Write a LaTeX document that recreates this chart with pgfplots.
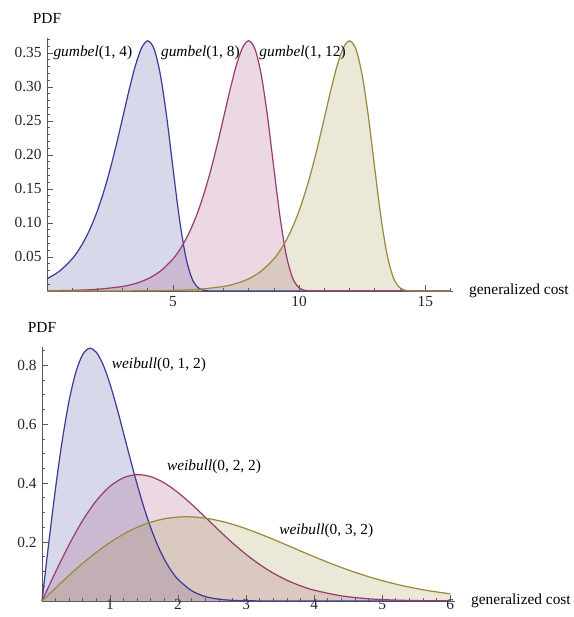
\documentclass[border=0pt]{standalone}
\usepackage{fontspec}
\setmainfont{Liberation Serif}
\usepackage{pgfplots}
\pgfplotsset{compat=1.18}
\definecolor{cA}{rgb}{0.24,0.24,0.6}
\definecolor{cB}{rgb}{0.6,0.24,0.442}
\definecolor{cC}{rgb}{0.6,0.547,0.24}
\definecolor{axc}{rgb}{0.35,0.35,0.35}
\pgfplotsset{mystyle/.style={
  scale only axis, axis lines=left,
  axis line style={-, axc, line width=0.6pt},
  tick align=inside, major tick length=4pt, minor tick length=2.2pt,
  every tick/.style={axc, line width=0.5pt},
  tick label style={font=\fontsize{10}{12}\selectfont, text=black!85},
  /pgf/number format/assume math mode=true,
  every axis y label/.style={at={(axis description cs:0,1)}, anchor=south, yshift=6pt, font=\fontsize{10}{12}\selectfont},
  every axis x label/.style={at={(axis description cs:1,0)}, anchor=west, xshift=7pt, font=\fontsize{10}{12}\selectfont},
  clip=false,
}}
\begin{document}
\begin{tikzpicture}
\useasboundingbox (0,0) rectangle (372.45pt,401.05pt);
% ---------------- Top: Gumbel ----------------
\begin{axis}[mystyle, at={(30.55pt,211.9pt)}, anchor=south west,
  width=263.9pt, height=164.45pt,
  xmin=0, xmax=16.1, ymin=0, ymax=0.372,
  xtick={5,10,15}, minor xtick={1,2,3,4,6,7,8,9,11,12,13,14,16},
  ytick={0.05,0.10,0.15,0.20,0.25,0.30,0.35},
  minor ytick={0.01,0.02,0.03,0.04,0.06,0.07,0.08,0.09,0.11,0.12,0.13,0.14,0.16,0.17,0.18,0.19,0.21,0.22,0.23,0.24,0.26,0.27,0.28,0.29,0.31,0.32,0.33,0.34,0.36,0.37},
  yticklabel style={/pgf/number format/.cd, fixed, fixed zerofill, precision=2},
  xlabel={generalized cost}, ylabel={PDF}]
\addplot[draw=none, fill=cA, fill opacity=0.2, smooth] coordinates {
(0,0.017990)(0.5,0.029299)(1,0.047369)(1.25,0.059970)(1.5,0.075616)(1.75,0.094857)(2,0.118205)(2.25,0.146056)(2.5,0.178515)(2.75,0.215138)(3,0.254646)(3.25,0.294534)(3.5,0.330704)(3.75,0.357425)(4,0.367879)(4.25,0.355578)(4.5,0.317051)(4.75,0.254946)(5,0.179374)(5.25,0.106416)(5.5,0.050707)(5.75,0.018226)(6,0.004566)(6.25,0.000717)(6.5,0.000062)(7,0)(16,0)} \closedcycle;
\addplot[draw=none, fill=cB, fill opacity=0.2, smooth] coordinates {
(0,0.000335)(1,0.000911)(2,0.002473)(3,0.006693)(3.5,0.010986)(4,0.017990)(4.5,0.029299)(5,0.047369)(5.25,0.059970)(5.5,0.075616)(5.75,0.094857)(6,0.118205)(6.25,0.146056)(6.5,0.178515)(6.75,0.215138)(7,0.254646)(7.25,0.294534)(7.5,0.330704)(7.75,0.357425)(8,0.367879)(8.25,0.355578)(8.5,0.317051)(8.75,0.254946)(9,0.179374)(9.25,0.106416)(9.5,0.050707)(9.75,0.018226)(10,0.004566)(10.25,0.000717)(10.5,0.000062)(11,0)(16,0)} \closedcycle;
\addplot[draw=none, fill=cC, fill opacity=0.2, smooth] coordinates {
(0,0.000006)(1,0.000017)(2,0.000045)(3,0.000123)(4,0.000335)(5,0.000911)(6,0.002473)(7,0.006693)(7.5,0.010986)(8,0.017990)(8.5,0.029299)(9,0.047369)(9.25,0.059970)(9.5,0.075616)(9.75,0.094857)(10,0.118205)(10.25,0.146056)(10.5,0.178515)(10.75,0.215138)(11,0.254646)(11.25,0.294534)(11.5,0.330704)(11.75,0.357425)(12,0.367879)(12.25,0.355578)(12.5,0.317051)(12.75,0.254946)(13,0.179374)(13.25,0.106416)(13.5,0.050707)(13.75,0.018226)(14,0.004566)(14.25,0.000717)(14.5,0.000062)(15,0)(16,0)} \closedcycle;
\addplot[cA, line width=0.8pt, smooth] coordinates {
(0,0.017990)(0.5,0.029299)(1,0.047369)(1.25,0.059970)(1.5,0.075616)(1.75,0.094857)(2,0.118205)(2.25,0.146056)(2.5,0.178515)(2.75,0.215138)(3,0.254646)(3.25,0.294534)(3.5,0.330704)(3.75,0.357425)(4,0.367879)(4.25,0.355578)(4.5,0.317051)(4.75,0.254946)(5,0.179374)(5.25,0.106416)(5.5,0.050707)(5.75,0.018226)(6,0.004566)(6.25,0.000717)(6.5,0.000062)(7,0)(16,0)};
\addplot[cB, line width=0.8pt, smooth] coordinates {
(0,0.000335)(1,0.000911)(2,0.002473)(3,0.006693)(3.5,0.010986)(4,0.017990)(4.5,0.029299)(5,0.047369)(5.25,0.059970)(5.5,0.075616)(5.75,0.094857)(6,0.118205)(6.25,0.146056)(6.5,0.178515)(6.75,0.215138)(7,0.254646)(7.25,0.294534)(7.5,0.330704)(7.75,0.357425)(8,0.367879)(8.25,0.355578)(8.5,0.317051)(8.75,0.254946)(9,0.179374)(9.25,0.106416)(9.5,0.050707)(9.75,0.018226)(10,0.004566)(10.25,0.000717)(10.5,0.000062)(11,0)(16,0)};
\addplot[cC, line width=0.8pt, smooth] coordinates {
(0,0.000006)(1,0.000017)(2,0.000045)(3,0.000123)(4,0.000335)(5,0.000911)(6,0.002473)(7,0.006693)(7.5,0.010986)(8,0.017990)(8.5,0.029299)(9,0.047369)(9.25,0.059970)(9.5,0.075616)(9.75,0.094857)(10,0.118205)(10.25,0.146056)(10.5,0.178515)(10.75,0.215138)(11,0.254646)(11.25,0.294534)(11.5,0.330704)(11.75,0.357425)(12,0.367879)(12.25,0.355578)(12.5,0.317051)(12.75,0.254946)(13,0.179374)(13.25,0.106416)(13.5,0.050707)(13.75,0.018226)(14,0.004566)(14.25,0.000717)(14.5,0.000062)(15,0)(16,0)};
\node[anchor=east, font=\fontsize{10}{12}\selectfont, inner sep=1pt] at (axis cs:3.45,0.350) {\textit{gumbel}(1, 4)};
\node[anchor=west, font=\fontsize{10}{12}\selectfont, inner sep=1pt] at (axis cs:4.45,0.350) {\textit{gumbel}(1, 8)};
\node[anchor=west, font=\fontsize{10}{12}\selectfont, inner sep=1pt] at (axis cs:8.35,0.350) {\textit{gumbel}(1, 12)};
\end{axis}
% ---------------- Bottom: Weibull ----------------
\begin{axis}[mystyle, at={(27.3pt,10.4pt)}, anchor=south west,
  width=268.45pt, height=165.1pt,
  xmin=0, xmax=6.07, ymin=0, ymax=0.862,
  xtick={1,2,3,4,5,6},
  minor xtick={0.2,0.4,0.6,0.8,1.2,1.4,1.6,1.8,2.2,2.4,2.6,2.8,3.2,3.4,3.6,3.8,4.2,4.4,4.6,4.8,5.2,5.4,5.6,5.8},
  ytick={0.2,0.4,0.6,0.8},
  minor ytick={0.05,0.1,0.15,0.25,0.3,0.35,0.45,0.5,0.55,0.65,0.7,0.75,0.85},
  yticklabel style={/pgf/number format/.cd, fixed, fixed zerofill, precision=1},
  xticklabel style={inner sep=0.5pt, yshift=1.5pt},
  xlabel={generalized cost}, ylabel={PDF}]
\addplot[draw=none, fill=cA, fill opacity=0.2, smooth] coordinates {
(0,0)(0.1,0.19801)(0.2,0.38432)(0.3,0.54836)(0.4,0.68171)(0.5,0.77880)(0.6,0.83722)(0.7,0.85768)(0.8,0.84366)(0.9,0.80074)(1.0,0.73576)(1.1,0.65604)(1.2,0.56863)(1.3,0.47975)(1.4,0.39441)(1.5,0.31620)(1.6,0.24738)(1.7,0.18896)(1.8,0.14099)(1.9,0.10280)(2.0,0.07326)(2.2,0.03479)(2.4,0.015125)(2.6,0.006028)(2.8,0.002205)(3.0,0.00074)(3.5,0.00003)(4,0)(6,0)} \closedcycle;
\addplot[draw=none, fill=cB, fill opacity=0.2, smooth] coordinates {
(0,0)(0.2,0.09900)(0.4,0.19216)(0.6,0.27418)(0.8,0.34086)(1.0,0.38940)(1.2,0.41861)(1.4,0.42884)(1.6,0.42183)(1.8,0.40037)(2.0,0.36788)(2.2,0.32802)(2.4,0.28432)(2.6,0.23988)(2.8,0.19720)(3.0,0.15810)(3.2,0.12369)(3.4,0.09448)(3.6,0.07050)(3.8,0.05140)(4.0,0.03663)(4.4,0.017396)(4.8,0.007563)(5.2,0.003014)(5.6,0.001102)(6.0,0.00037)} \closedcycle;
\addplot[draw=none, fill=cC, fill opacity=0.2, smooth] coordinates {
(0,0)(0.3,0.06600)(0.6,0.12811)(0.9,0.18279)(1.2,0.22724)(1.5,0.25960)(1.8,0.27908)(2.1,0.28590)(2.4,0.28122)(2.7,0.26692)(3.0,0.24525)(3.3,0.21868)(3.6,0.18954)(3.9,0.15992)(4.2,0.13147)(4.5,0.10540)(4.8,0.08246)(5.1,0.06299)(5.4,0.04700)(5.7,0.03427)(6.0,0.02442)} \closedcycle;
\addplot[cA, line width=0.8pt, smooth] coordinates {
(0,0)(0.1,0.19801)(0.2,0.38432)(0.3,0.54836)(0.4,0.68171)(0.5,0.77880)(0.6,0.83722)(0.7,0.85768)(0.8,0.84366)(0.9,0.80074)(1.0,0.73576)(1.1,0.65604)(1.2,0.56863)(1.3,0.47975)(1.4,0.39441)(1.5,0.31620)(1.6,0.24738)(1.7,0.18896)(1.8,0.14099)(1.9,0.10280)(2.0,0.07326)(2.2,0.03479)(2.4,0.015125)(2.6,0.006028)(2.8,0.002205)(3.0,0.00074)(3.5,0.00003)(4,0)(6,0)};
\addplot[cB, line width=0.8pt, smooth] coordinates {
(0,0)(0.2,0.09900)(0.4,0.19216)(0.6,0.27418)(0.8,0.34086)(1.0,0.38940)(1.2,0.41861)(1.4,0.42884)(1.6,0.42183)(1.8,0.40037)(2.0,0.36788)(2.2,0.32802)(2.4,0.28432)(2.6,0.23988)(2.8,0.19720)(3.0,0.15810)(3.2,0.12369)(3.4,0.09448)(3.6,0.07050)(3.8,0.05140)(4.0,0.03663)(4.4,0.017396)(4.8,0.007563)(5.2,0.003014)(5.6,0.001102)(6.0,0.00037)};
\addplot[cC, line width=0.8pt, smooth] coordinates {
(0,0)(0.3,0.06600)(0.6,0.12811)(0.9,0.18279)(1.2,0.22724)(1.5,0.25960)(1.8,0.27908)(2.1,0.28590)(2.4,0.28122)(2.7,0.26692)(3.0,0.24525)(3.3,0.21868)(3.6,0.18954)(3.9,0.15992)(4.2,0.13147)(4.5,0.10540)(4.8,0.08246)(5.1,0.06299)(5.4,0.04700)(5.7,0.03427)(6.0,0.02442)};
\node[anchor=west, font=\fontsize{10}{12}\selectfont, inner sep=1pt] at (axis cs:1.0,0.80) {\textit{weibull}(0, 1, 2)};
\node[anchor=west, font=\fontsize{10}{12}\selectfont, inner sep=1pt] at (axis cs:1.81,0.455) {\textit{weibull}(0, 2, 2)};
\node[anchor=west, font=\fontsize{10}{12}\selectfont, inner sep=1pt] at (axis cs:3.46,0.239) {\textit{weibull}(0, 3, 2)};
\end{axis}
\end{tikzpicture}
\end{document}
